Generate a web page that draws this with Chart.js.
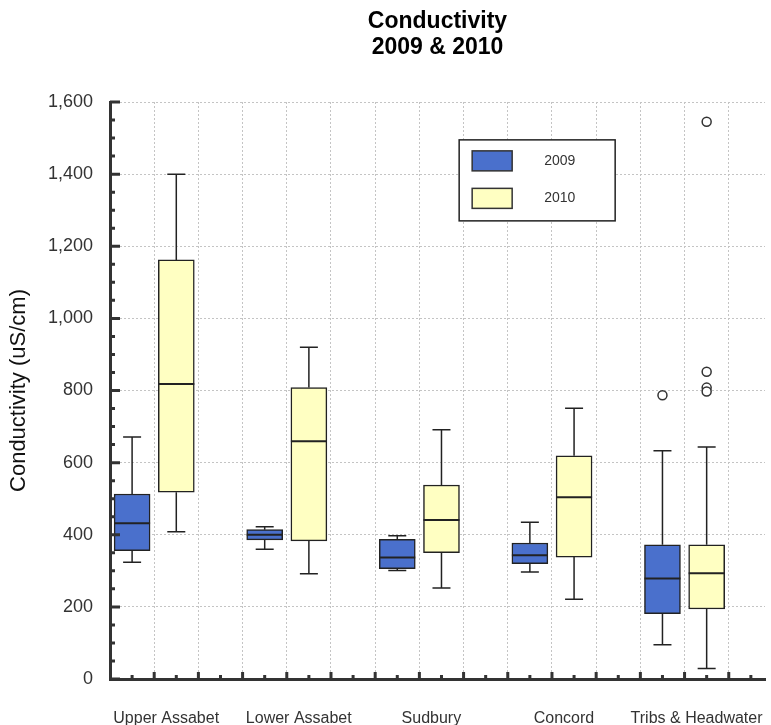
<!DOCTYPE html>
<html><head><meta charset="utf-8">
<script src="https://cdn.jsdelivr.net/npm/chart.js@4/dist/chart.umd.min.js"></script>
<style>html,body{margin:0;padding:0;background:#fff;overflow:hidden}#wrap{width:771px;height:725px;position:relative}</style>
</head><body><div id="wrap"><canvas id="c" width="771" height="725"></canvas></div>
<script>
// ---- data ----
const categories = ['Upper Assabet', 'Lower Assabet', 'Sudbury', 'Concord', 'Tribs & Headwater'];
const seriesLabels = ['2009', '2010'];
const min2009 = [324, 360, 301, 297, 95];
const q1_2009 = [356, 386, 306, 320, 181];
const med2009 = [432, 400, 337, 343, 279];
const q3_2009 = [513, 414, 387, 377, 372];
const max2009 = [671, 422, 397, 435, 633];
const out2009 = [[], [], [], [], [787]];
const min2010 = [408, 292, 252, 221, 29];
const q1_2010 = [518, 383, 350, 338, 194];
const med2010 = [818, 659, 441, 504, 293];
const q3_2010 = [1162, 808, 538, 619, 372];
const max2010 = [1400, 920, 691, 751, 643];
const out2010 = [[], [], [], [], [1545, 852, 808, 797]];
const yTickValues = [0, 200, 400, 600, 800, 1000, 1200, 1400, 1600];
const titleLines = ['Conductivity', '2009 & 2010'];
const yTitle = 'Conductivity (uS/cm)';

const colors = ['#4a70cc', '#ffffc2'];
const FONT = "'Liberation Sans', Arial, sans-serif";

const series = [
  {label: seriesLabels[0], min: min2009, q1: q1_2009, med: med2009, q3: q3_2009, max: max2009, out: out2009, slot: 0.5},
  {label: seriesLabels[1], min: min2010, q1: q1_2010, med: med2010, q3: q3_2010, max: max2010, out: out2010, slot: 1.5}
];

const datasets = [];
series.forEach((s, k) => {
  datasets.push({
    type: 'bar', label: s.label, grouped: false,
    data: categories.map((c, i) => ({x: 3 * i + s.slot, y: [s.q1[i], s.q3[i]]})),
    backgroundColor: colors[k], borderColor: '#222', borderWidth: 1.5, borderSkipped: false,
    barThickness: 36, order: 2
  });
});
series.forEach((s, k) => {
  const pts = [];
  s.out.forEach((arr, i) => arr.forEach(v => pts.push({x: 3 * i + s.slot, y: v})));
  datasets.push({
    type: 'scatter', label: s.label + ' outliers', data: pts,
    pointStyle: 'circle', pointRadius: 4.5, pointBorderWidth: 1.5,
    pointBorderColor: '#333', pointBackgroundColor: '#fff', order: 1
  });
});

const boxExtras = {
  id: 'boxExtras',
  afterDatasetsDraw(chart) {
    const {ctx, scales: {y}} = chart;
    ctx.save();
    ctx.strokeStyle = '#222';
    series.forEach((s, k) => {
      const meta = chart.getDatasetMeta(k);
      meta.data.forEach((el, i) => {
        const cx = el.x, hw = el.width / 2;
        const yMin = y.getPixelForValue(s.min[i]), yQ1 = y.getPixelForValue(s.q1[i]);
        const yMed = y.getPixelForValue(s.med[i]), yQ3 = y.getPixelForValue(s.q3[i]);
        const yMax = y.getPixelForValue(s.max[i]);
        ctx.lineWidth = 1.5;
        ctx.beginPath();
        ctx.moveTo(cx, yQ3); ctx.lineTo(cx, yMax);
        ctx.moveTo(cx - hw / 2, yMax); ctx.lineTo(cx + hw / 2, yMax);
        ctx.moveTo(cx, yQ1); ctx.lineTo(cx, yMin);
        ctx.moveTo(cx - hw / 2, yMin); ctx.lineTo(cx + hw / 2, yMin);
        ctx.stroke();
        ctx.lineWidth = 2;
        ctx.beginPath();
        ctx.moveTo(cx - hw, yMed); ctx.lineTo(cx + hw, yMed);
        ctx.stroke();
      });
    });
    ctx.restore();
  },
  afterDraw(chart) {
    const {ctx, chartArea, scales: {x, y}} = chart;
    ctx.save();
    ctx.strokeStyle = '#333';
    ctx.lineWidth = 3;
    ctx.beginPath();
    for (let v = y.min; v <= y.max; v += 50) {
      const py = y.getPixelForValue(v);
      const len = v % 200 === 0 ? 10 : 5;
      ctx.moveTo(chartArea.left, py); ctx.lineTo(chartArea.left + len, py);
    }
    for (let v = 0.5; v <= x.max; v += 0.5) {
      const px = x.getPixelForValue(v);
      const len = Number.isInteger(v) ? 7 : 4;
      ctx.moveTo(px, chartArea.bottom); ctx.lineTo(px, chartArea.bottom - len);
    }
    ctx.stroke();
    // legend
    const lx = x.getPixelForValue(7.9), ly = y.getPixelForValue(1495);
    const lw = 156, lh = 81;
    ctx.fillStyle = '#fff';
    ctx.fillRect(lx, ly, lw, lh);
    ctx.lineWidth = 1.5; ctx.strokeStyle = '#222';
    ctx.strokeRect(lx, ly, lw, lh);
    series.forEach((s, k) => {
      const sy = ly + 11 + k * 37.5;
      ctx.fillStyle = colors[k];
      ctx.fillRect(lx + 13, sy, 40, 20);
      ctx.lineWidth = 1.5; ctx.strokeStyle = '#333';
      ctx.strokeRect(lx + 13, sy, 40, 20);
      ctx.fillStyle = '#333';
      ctx.font = '14px ' + FONT;
      ctx.textBaseline = 'middle'; ctx.textAlign = 'left';
      ctx.fillText(s.label, lx + 85, sy + 10);
    });
    ctx.restore();
  }
};

new Chart(document.getElementById('c'), {
  type: 'bar',
  data: {datasets},
  plugins: [boxExtras],
  options: {
    responsive: false, animation: false,
    events: [],
    layout: {padding: 0},
    plugins: {
      legend: {display: false}, tooltip: {enabled: false},
      title: {
        display: true, text: titleLines, fullSize: false, color: '#000',
        font: {family: FONT, size: 23, weight: 'bold', lineHeight: 1.15},
        padding: {top: 8, bottom: 41.1}
      }
    },
    scales: {
      x: {
        type: 'linear', min: 0, max: 14.82, offset: false,
        grid: {color: '#c4c4c4', lineWidth: 1, drawTicks: false, offset: false},
        border: {display: true, color: '#333', width: 3, dash: [2, 2]},
        ticks: {
          stepSize: 1, autoSkip: false, includeBounds: false, padding: 30, labelOffset: 12, maxRotation: 0, minRotation: 0,
          color: '#333', font: {family: FONT, size: 16},
          callback: (v) => { const i = (v - 1) / 3; return Number.isInteger(i) && categories[i] ? categories[i] : ''; }
        },
        afterFit(s) { s.height = 46; s.paddingLeft = 0; s.paddingRight = 0; }
      },
      y: {
        min: yTickValues[0], max: yTickValues[yTickValues.length - 1],
        afterBuildTicks(s) { s.ticks = yTickValues.map(v => ({value: v})); },
        grid: {color: '#c4c4c4', lineWidth: 1, drawTicks: false},
        border: {display: true, color: '#333', width: 3, dash: [2, 2]},
        ticks: {padding: 17, color: '#333', font: {family: FONT, size: 18}, callback: v => v.toLocaleString('en-US')},
        title: {display: true, text: yTitle, color: '#111', font: {family: FONT, size: 22}, padding: {top: 6, bottom: 0}},
        afterFit(s) { s.width = 110; }
      }
    }
  }
});
</script></body></html>
